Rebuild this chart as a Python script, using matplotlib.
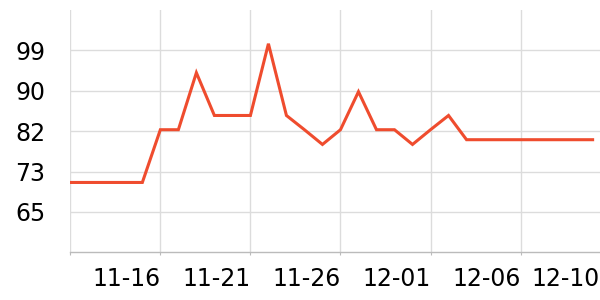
import matplotlib
matplotlib.use("Agg")
import matplotlib.pyplot as plt
import matplotlib.dates as mdates
import pandas as pd

# daily readings, 11-11 .. 12-10
dates = pd.date_range("2023-11-11", "2023-12-10", freq="D")
values = [71.2, 71.2, 71.2, 71.2, 71.2, 82.3, 82.3, 94.3, 85.3, 85.3,
          85.3, 100.4, 85.3, 82.3, 79.2, 82.3, 90.3, 82.3, 82.3, 79.2,
          82.3, 85.3, 80.2, 80.2, 80.2, 80.2, 80.2, 80.2, 80.2, 80.2]

y_ticks = [65, 73.5, 82, 90.5, 99]
y_labels = ["65", "73", "82", "90", "99"]
x_ticks = ["2023-11-11", "2023-11-16", "2023-11-21", "2023-11-26", "2023-12-01", "2023-12-06"]
x_labels = ["", "11-16", "11-21", "11-26", "12-01", "12-06"]
last_label = "12-10"

line_color = "#ef4c2e"
grid_color = "#dcdcdc"

fig = plt.figure(figsize=(6, 3), dpi=100)
ax = fig.add_axes([70.3 / 600, 47.7 / 300, 529.7 / 600, 242.3 / 300])

ax.plot(dates, values, color=line_color, linewidth=2.2, solid_joinstyle="miter")

x0 = mdates.date2num(dates[0])
x1 = mdates.date2num(dates[-1]) + 0.41
ax.set_xlim(x0, x1)
ax.set_ylim(56.5, 107.5)

ax.set_yticks(y_ticks)
ax.set_yticklabels(y_labels)
ax.set_xticks(mdates.date2num(pd.to_datetime(x_ticks)))
ax.set_xticklabels(x_labels, ha="right")
ax.set_xticks([x1], minor=True)
ax.set_xticklabels([last_label], minor=True, ha="right")

for s in ["top", "right", "left"]:
    ax.spines[s].set_visible(False)
ax.spines["bottom"].set_color("#bbbbbb")
ax.spines["bottom"].set_linewidth(1.0)

ax.grid(True, which="major", color=grid_color, linewidth=1.0)
ax.set_axisbelow(True)

fs = 17
ax.tick_params(axis="y", length=0, pad=18, labelsize=fs)
ax.tick_params(axis="x", which="major", length=2.5, color="#bbbbbb", pad=8, labelsize=fs)
ax.tick_params(axis="x", which="minor", length=2.5, color="white", pad=8, labelsize=fs)

fig.savefig("out.png", dpi=100)
